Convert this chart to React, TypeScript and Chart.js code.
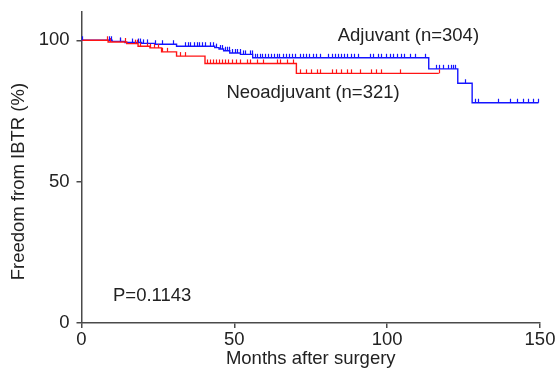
import React, { useEffect, useRef } from "react";
import { Chart, registerables } from "chart.js";

Chart.register(...registerables);

// Kaplan-Meier step data: event times (months) and survival (%)
const adjTimes = [0, 10, 14.2, 19.7, 24, 31.1, 43.6, 45, 46.5, 48.5, 52, 56, 113.6, 123.1, 127.8, 149.5];
const adjSurv = [100, 99.6, 99.2, 98.9, 98.6, 97.9, 97.4, 96.9, 96.3, 95.5, 95.0, 93.8, 89.9, 84.8, 77.9, 77.9];
const neoTimes = [0, 8.7, 14.8, 18.5, 22.4, 26.2, 31.1, 40.4, 70.3, 116.9];
const neoSurv = [100, 99.4, 98.8, 97.9, 97.3, 95.9, 94.4, 91.8, 88.3, 88.3];

// Censored observation times (months)
const adjCensor = [0, 9, 9.8, 12.6, 16.4, 18.5, 19.3, 20.2, 21.4, 24, 26.2, 29.9, 33.8, 34.8, 35.6, 36.9, 37.8, 38.6, 39.5, 40.5, 42.2, 43.1, 44, 45.2, 46, 46.8, 47.5, 48.4, 49.3, 50.2, 51, 51.8, 52.7, 53.6, 55, 55.8, 56.6, 57.5, 58.4, 59.2, 60.1, 61, 62, 62.9, 63.8, 64.7, 66, 67, 68, 69, 70, 71.4, 72.4, 73.5, 74.5, 75.6, 76.6, 78, 80.5, 81.8, 82.8, 83.8, 85, 86, 87, 88.2, 89.3, 90.4, 94.3, 95.5, 97, 98.1, 99.5, 100.8, 102, 103.2, 104.4, 105.6, 107.4, 109, 112.3, 116.1, 116.8, 118.2, 119.9, 120.8, 121.5, 122.1, 125.3, 128.8, 129.8, 136.2, 140.2, 142.4, 144.5, 146.2, 147.8, 149.5];
const neoCensor = [8.3, 9.3, 12.6, 14.2, 17.5, 18.2, 19, 21.4, 22.5, 23.8, 25, 26.3, 28, 32.2, 33.8, 41, 42, 43, 44, 45, 46, 47, 48, 49.2, 50.5, 51.8, 54, 55, 57.3, 59.3, 63.9, 64.9, 67.2, 69.1, 71.4, 73.6, 75.2, 76.9, 78, 81.8, 83.4, 85, 86.7, 88.3, 91, 94.8, 96.5, 98.1, 104.1, 116.9];

const xTicks = [0, 50, 100, 150];
const yTicks = [0, 50, 100];

const adjLabel = "Adjuvant (n=304)";
const neoLabel = "Neoadjuvant (n=321)";
const pLabel = "P=0.1143";
const xTitle = "Months after surgery";
const yTitle = "Freedom from IBTR (%)";

const BLUE = "#1414ff";
const RED = "#ff1414";
const AXIS = "#4a4a4a";
const TEXT = "#222222";
const FONT = "Liberation Sans, Arial, sans-serif";
const FS = 18.5;

function survAt(times: number[], surv: number[], t: number) {
  let v = surv[0];
  for (let i = 0; i < times.length; i++) {
    if (times[i] <= t) v = surv[i];
  }
  return v;
}

const kmPlugin = {
  id: "kmExtras",
  afterDatasetsDraw(chart: any) {
    const { ctx, scales } = chart;
    const x = scales.x;
    const y = scales.y;
    const drawCensor = (times: number[], surv: number[], cens: number[], color: string) => {
      ctx.save();
      ctx.strokeStyle = color;
      ctx.lineWidth = 1.2;
      for (const c of cens) {
        const px = Math.round(x.getPixelForValue(c)) + 0.5;
        const py = y.getPixelForValue(survAt(times, surv, c));
        ctx.beginPath();
        ctx.moveTo(px, py);
        ctx.lineTo(px, py - 4);
        ctx.stroke();
      }
      ctx.restore();
    };
    drawCensor(neoTimes, neoSurv, neoCensor, RED);
    drawCensor(adjTimes, adjSurv, adjCensor, BLUE);

    ctx.save();
    ctx.fillStyle = TEXT;
    ctx.font = `${FS}px ${FONT}`;
    ctx.textBaseline = "middle";
    ctx.textAlign = "left";
    ctx.fillText(adjLabel, x.getPixelForValue(83.8), y.getPixelForValue(101.4));
    ctx.fillText(neoLabel, x.getPixelForValue(47.4), y.getPixelForValue(81.3));
    ctx.fillText(pLabel, x.getPixelForValue(10.3), y.getPixelForValue(9.5));
    // y title centered on 0..100 range
    const cy = (y.getPixelForValue(0) + y.getPixelForValue(100)) / 2;
    ctx.translate(19, cy);
    ctx.rotate(-Math.PI / 2);
    ctx.textAlign = "center";
    ctx.fillText(yTitle, 0, 0);
    ctx.restore();
  },
};

export default function App() {
  const ref = useRef<HTMLCanvasElement | null>(null);
  useEffect(() => {
    document.body.style.margin = "0";
    const canvas = ref.current!;
    const chart = new Chart(canvas, {
      type: "line",
      data: {
        datasets: [
          {
            label: "Neoadjuvant",
            data: neoTimes.map((t, i) => ({ x: t, y: neoSurv[i] })),
            borderColor: RED,
            borderWidth: 1.4,
            stepped: true,
            pointRadius: 0,
            fill: false,
          },
          {
            label: "Adjuvant",
            data: adjTimes.map((t, i) => ({ x: t, y: adjSurv[i] })),
            borderColor: BLUE,
            borderWidth: 1.4,
            stepped: true,
            pointRadius: 0,
            fill: false,
          },
        ],
      },
      options: {
        responsive: false,
        animation: false,
        layout: { padding: { top: 12, right: 15, left: 0, bottom: 0 } },
        plugins: { legend: { display: false }, tooltip: { enabled: false } },
        scales: {
          x: {
            type: "linear",
            min: 0,
            max: 150,
            afterBuildTicks: (s: any) => {
              s.ticks = xTicks.map((v) => ({ value: v }));
            },
            afterFit: (s: any) => {
              s.height = 48;
              s.paddingLeft = 0;
              s.paddingRight = 0;
            },
            ticks: {
              color: TEXT,
              font: { family: FONT, size: FS },
              padding: 1,
              maxRotation: 0,
            },
            grid: { display: true, drawOnChartArea: false, drawTicks: true, tickLength: 5, color: AXIS, lineWidth: 1.5 },
            border: { display: true, color: AXIS, width: 1.5 },
            title: {
              display: true,
              text: xTitle,
              color: TEXT,
              font: { family: FONT, size: FS },
              padding: { top: 0, bottom: 1 },
            },
          },
          y: {
            type: "linear",
            min: 0,
            max: 110,
            afterBuildTicks: (s: any) => {
              s.ticks = yTicks.map((v) => ({ value: v }));
            },
            afterFit: (s: any) => {
              s.width = 81.5;
              s.paddingTop = 0;
              s.paddingBottom = 0;
            },
            ticks: {
              color: TEXT,
              font: { family: FONT, size: FS },
              padding: 7,
            },
            grid: { display: true, drawOnChartArea: false, drawTicks: true, tickLength: 5, color: AXIS, lineWidth: 1.5 },
            border: { display: true, color: AXIS, width: 1.5 },
          },
        },
      },
      plugins: [kmPlugin],
    });
    return () => chart.destroy();
  }, []);
  return (
    <div style={{ width: 555, height: 371 }}>
      <canvas ref={ref} width={555} height={371} />
    </div>
  );
}
